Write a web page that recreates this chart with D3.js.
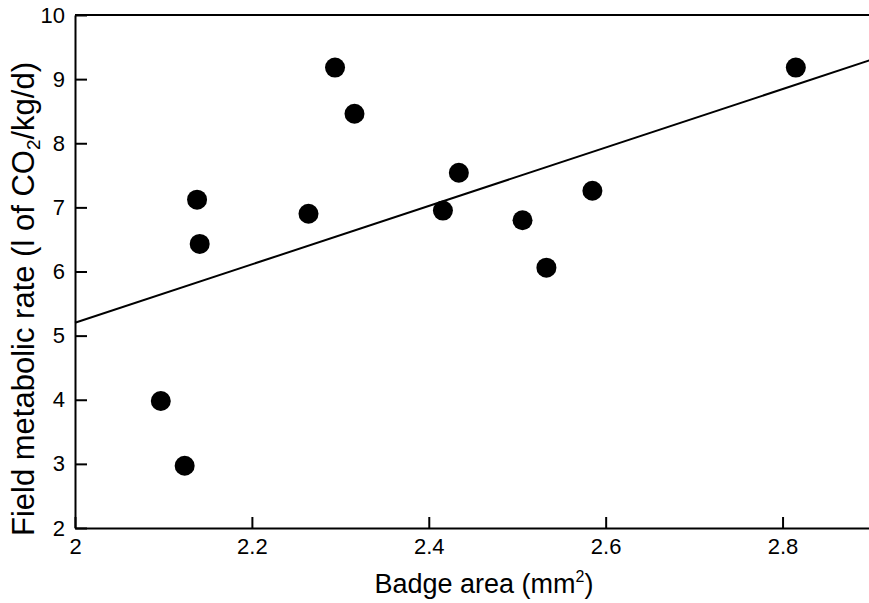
<!DOCTYPE html>
<html>
<head>
<meta charset="utf-8">
<script src="https://cdn.jsdelivr.net/npm/d3@7"></script>
<style>
  body { margin: 0; background: #fff; }
  svg { display: block; font-family: "Liberation Sans", Arial, sans-serif; }
  .axis path, .axis line { stroke: #000; stroke-width: 2; }
  .axis text { font-size: 22px; fill: #000; }
</style>
</head>
<body>
<div id="chart"></div>
<script>
// badge area (mm2) and field metabolic rate (l CO2/kg/d)
var badgeArea = [2.097, 2.124, 2.138, 2.141, 2.264, 2.294, 2.316, 2.416, 2.434, 2.506, 2.533, 2.585, 2.815];
var metabolicRate = [3.98, 2.97, 7.12, 6.43, 6.90, 9.18, 8.46, 6.95, 7.54, 6.80, 6.06, 7.26, 9.18];

// fitted line, end points
var fitX = [2.0, 2.9];
var fitY = [5.2, 9.3];

var xTicks = [2, 2.2, 2.4, 2.6, 2.8];
var yTicks = [2, 3, 4, 5, 6, 7, 8, 9, 10];

const WIDTH = 869;
const HEIGHT = 603;
const LEFT = 75;
const TOP = 15;
const BOTTOM = 528;

var translate = function (x, y) {
    return "translate(" + x + "," + y + ")";
};

var draw = function () {
    var svg = d3.select('#chart').append('svg')
        .attr('width', WIDTH)
        .attr('height', HEIGHT);

    var xScale = d3.scaleLinear()
        .domain([2, 2.9])
        .range([LEFT, 871]);

    var yScale = d3.scaleLinear()
        .domain([2, 10])
        .range([BOTTOM, TOP]);

    var xAxis = d3.axisBottom(xScale)
        .tickValues(xTicks)
        .tickFormat(d3.format('~g'))
        .tickSizeInner(-11)
        .tickSizeOuter(0)
        .tickPadding(10);

    var yAxis = d3.axisLeft(yScale)
        .tickValues(yTicks)
        .tickFormat(d3.format('d'))
        .tickSizeInner(-12)
        .tickSizeOuter(0)
        .tickPadding(10);

    svg.append('g')
        .attr('transform', translate(0, BOTTOM))
        .classed('axis', true)
        .call(xAxis)
        .call(function (g) { g.selectAll('text').attr('font-family', null); });

    svg.append('g')
        .attr('transform', translate(LEFT, 0))
        .classed('axis', true)
        .call(yAxis)
        .call(function (g) { g.selectAll('text').attr('font-family', null); });

    // top frame line
    svg.append('line')
        .attr('x1', LEFT)
        .attr('x2', WIDTH)
        .attr('y1', yScale(10))
        .attr('y2', yScale(10))
        .attr('stroke', '#000')
        .attr('stroke-width', 2);

    // regression line
    var line = d3.line()
        .x(function (d) { return xScale(d[0]); })
        .y(function (d) { return yScale(d[1]); });

    svg.append('path')
        .attr('d', line(d3.zip(fitX, fitY)))
        .attr('fill', 'none')
        .attr('stroke', '#000')
        .attr('stroke-width', 2);

    svg.selectAll('circle')
        .data(d3.zip(badgeArea, metabolicRate))
        .enter()
        .append('circle')
        .attr('cx', function (d) { return xScale(d[0]); })
        .attr('cy', function (d) { return yScale(d[1]); })
        .attr('r', 10)
        .attr('fill', '#000');

    // x title
    var xt = svg.append('text')
        .attr('x', 484)
        .attr('y', 593)
        .attr('text-anchor', 'middle')
        .attr('font-size', 27)
        .text('Badge area (mm');
    xt.append('tspan').attr('font-size', 16).attr('dy', -11).text('2');
    xt.append('tspan').attr('dy', 11).text(')');

    // y title
    var yt = svg.append('text')
        .attr('transform', translate(34, 299) + ' rotate(-90)')
        .attr('text-anchor', 'middle')
        .attr('font-size', 31)
        .text('Field metabolic rate (l of CO');
    yt.append('tspan').attr('font-size', 19).attr('dy', 6).text('2');
    yt.append('tspan').attr('dy', -6).text('/kg/d)');
};

window.onload = draw;
</script>
</body>
</html>
